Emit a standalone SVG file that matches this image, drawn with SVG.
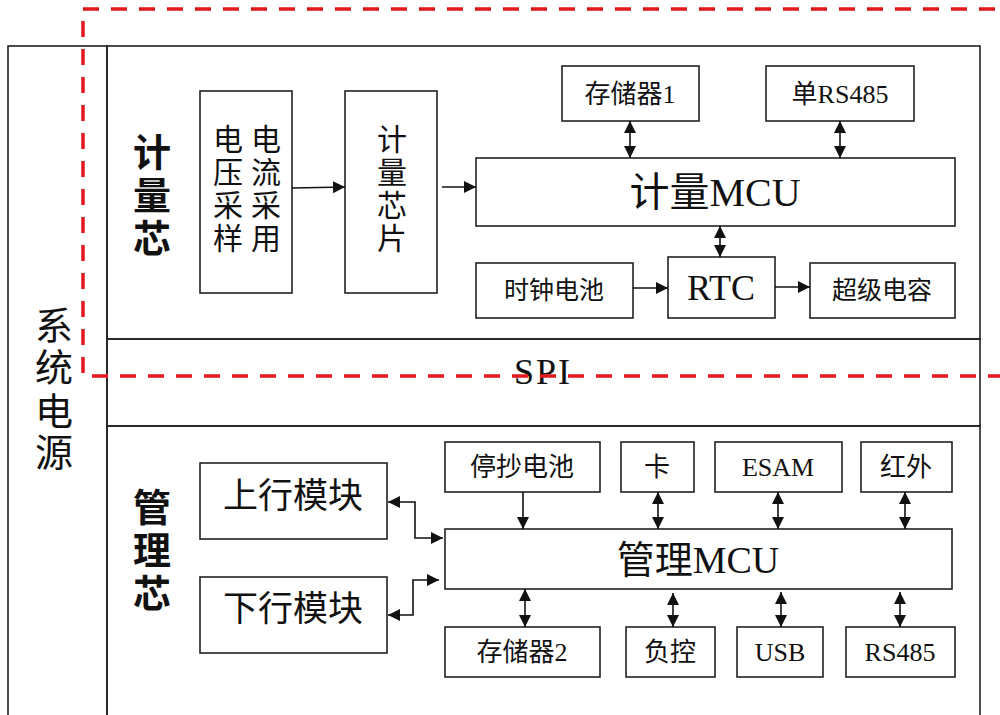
<svg xmlns="http://www.w3.org/2000/svg" width="1000" height="715" viewBox="0 0 1000 715">
<style>
.box{fill:#fff;stroke:#222;stroke-width:1.6}
.frame{fill:none;stroke:#222;stroke-width:1.6}
.t{font-family:"Liberation Serif","Noto Sans CJK SC",serif;fill:#111;text-anchor:middle}
.b{font-family:"Liberation Sans","Noto Sans CJK SC",sans-serif;font-weight:bold;fill:#111;text-anchor:middle}
.c{fill:none;stroke:#111;stroke-width:1.6}
.red{fill:none;stroke:#e3191c;stroke-width:3.5;stroke-dasharray:16 12}
</style>
<defs>
<marker id="ah" viewBox="0 0 12 12" refX="12" refY="6" markerWidth="12" markerHeight="12" markerUnits="userSpaceOnUse" orient="auto-start-reverse">
<path d="M0,0 L12,6 L0,12 Z" fill="#111"/>
</marker>
</defs>
<rect width="1000" height="715" fill="#fff"/>

<g id="power">
<rect class="frame" x="8" y="46" width="99" height="690"/>
<text class="t" font-size="38"><tspan x="54" y="339">系</tspan><tspan x="54" y="381">统</tspan><tspan x="54" y="425">电</tspan><tspan x="54" y="466">源</tspan></text>
</g>

<g id="metering-section">
<rect class="frame" x="107" y="46" width="873" height="293"/>
<text class="b" font-size="38"><tspan x="152" y="166">计</tspan><tspan x="152" y="209">量</tspan><tspan x="152" y="252">芯</tspan></text>
</g>

<g id="spi-band">
<rect class="frame" x="107" y="339" width="873" height="87"/>
<text class="t" font-size="36" x="543" y="384" letter-spacing="2">SPI</text>
</g>

<g id="mgmt-section">
<rect class="frame" x="107" y="426" width="873" height="310"/>
<text class="b" font-size="38"><tspan x="152" y="521">管</tspan><tspan x="152" y="564">理</tspan><tspan x="152" y="607">芯</tspan></text>
</g>

<g id="sampling">
<rect class="box" x="200" y="91" width="92" height="202"/>
<text class="t" font-size="30"><tspan x="228" y="150">电</tspan><tspan x="228" y="183">压</tspan><tspan x="228" y="216">采</tspan><tspan x="228" y="249">样</tspan></text>
<text class="t" font-size="30"><tspan x="266" y="150">电</tspan><tspan x="266" y="183">流</tspan><tspan x="266" y="216">采</tspan><tspan x="266" y="249">用</tspan></text>
</g>

<g id="metering-chip">
<rect class="box" x="345" y="91" width="92" height="202"/>
<text class="t" font-size="30"><tspan x="392" y="150">计</tspan><tspan x="392" y="183">量</tspan><tspan x="392" y="216">芯</tspan><tspan x="392" y="249">片</tspan></text>
</g>

<g id="memory1"><rect class="box" x="562" y="66" width="137" height="55"/><text class="t" font-size="26" x="630" y="103">存储器1</text></g>
<g id="rs485-single"><rect class="box" x="766" y="66" width="148" height="55"/><text class="t" font-size="26" x="840" y="103">单RS485</text></g>
<g id="metering-mcu"><rect class="box" x="476" y="158" width="479" height="68"/><text class="t" font-size="40" x="715" y="206">计量MCU</text></g>
<g id="clock-battery"><rect class="box" x="476" y="263" width="157" height="55"/><text class="t" font-size="25" x="554" y="299">时钟电池</text></g>
<g id="rtc"><rect class="box" x="668" y="257" width="107" height="61"/><text class="t" font-size="36" x="721" y="300">RTC</text></g>
<g id="supercap"><rect class="box" x="810" y="263" width="145" height="55"/><text class="t" font-size="25" x="882" y="299">超级电容</text></g>

<g id="uplink"><rect class="box" x="200" y="463" width="187" height="76"/><text class="t" font-size="35" x="293" y="508">上行模块</text></g>
<g id="downlink"><rect class="box" x="200" y="577" width="187" height="76"/><text class="t" font-size="35" x="293" y="621">下行模块</text></g>

<g id="standby-battery"><rect class="box" x="445" y="442" width="155" height="50"/><text class="t" font-size="26" x="522" y="476">停抄电池</text></g>
<g id="card"><rect class="box" x="621" y="442" width="73" height="50"/><text class="t" font-size="26" x="657" y="476">卡</text></g>
<g id="esam"><rect class="box" x="715" y="442" width="127" height="50"/><text class="t" font-size="26" x="778" y="476">ESAM</text></g>
<g id="infrared"><rect class="box" x="861" y="442" width="91" height="50"/><text class="t" font-size="26" x="906" y="476">红外</text></g>
<g id="mgmt-mcu"><rect class="box" x="445" y="529" width="507" height="60"/><text class="t" font-size="38" x="698" y="573">管理MCU</text></g>
<g id="memory2"><rect class="box" x="445" y="627" width="155" height="50"/><text class="t" font-size="26" x="522" y="661">存储器2</text></g>
<g id="load-control"><rect class="box" x="626" y="627" width="89" height="50"/><text class="t" font-size="26" x="670" y="661">负控</text></g>
<g id="usb"><rect class="box" x="737" y="627" width="86" height="50"/><text class="t" font-size="26" x="780" y="661">USB</text></g>
<g id="rs485"><rect class="box" x="846" y="627" width="109" height="50"/><text class="t" font-size="26" x="900" y="661">RS485</text></g>

<g id="connectors">
<line class="c" x1="292" y1="188" x2="345" y2="187" marker-end="url(#ah)"/>
<line class="c" x1="442" y1="187" x2="476" y2="187" marker-end="url(#ah)"/>
<line class="c" x1="630" y1="121" x2="630" y2="158" marker-start="url(#ah)" marker-end="url(#ah)"/>
<line class="c" x1="840" y1="121" x2="840" y2="158" marker-start="url(#ah)" marker-end="url(#ah)"/>
<line class="c" x1="720" y1="226" x2="720" y2="257" marker-start="url(#ah)" marker-end="url(#ah)"/>
<line class="c" x1="633" y1="288" x2="668" y2="288" marker-end="url(#ah)"/>
<line class="c" x1="775" y1="287" x2="810" y2="287" marker-end="url(#ah)"/>
<polyline class="c" points="388,502 415,502 415,538 443,538" marker-start="url(#ah)" marker-end="url(#ah)"/>
<polyline class="c" points="388,615 413,615 413,580 439,580" marker-start="url(#ah)" marker-end="url(#ah)"/>
<line class="c" x1="523" y1="492" x2="523" y2="529" marker-end="url(#ah)"/>
<line class="c" x1="658" y1="492" x2="658" y2="529" marker-start="url(#ah)" marker-end="url(#ah)"/>
<line class="c" x1="778" y1="492" x2="778" y2="529" marker-start="url(#ah)" marker-end="url(#ah)"/>
<line class="c" x1="905" y1="492" x2="905" y2="529" marker-start="url(#ah)" marker-end="url(#ah)"/>
<line class="c" x1="525" y1="589" x2="525" y2="627" marker-start="url(#ah)" marker-end="url(#ah)"/>
<line class="c" x1="673" y1="593" x2="673" y2="627" marker-start="url(#ah)" marker-end="url(#ah)"/>
<line class="c" x1="781" y1="592" x2="781" y2="627" marker-start="url(#ah)" marker-end="url(#ah)"/>
<line class="c" x1="900" y1="592" x2="900" y2="627" marker-start="url(#ah)" marker-end="url(#ah)"/>
</g>

<g id="highlight">
<rect class="red" x="83" y="9" width="935" height="367"/>
</g>
</svg>
